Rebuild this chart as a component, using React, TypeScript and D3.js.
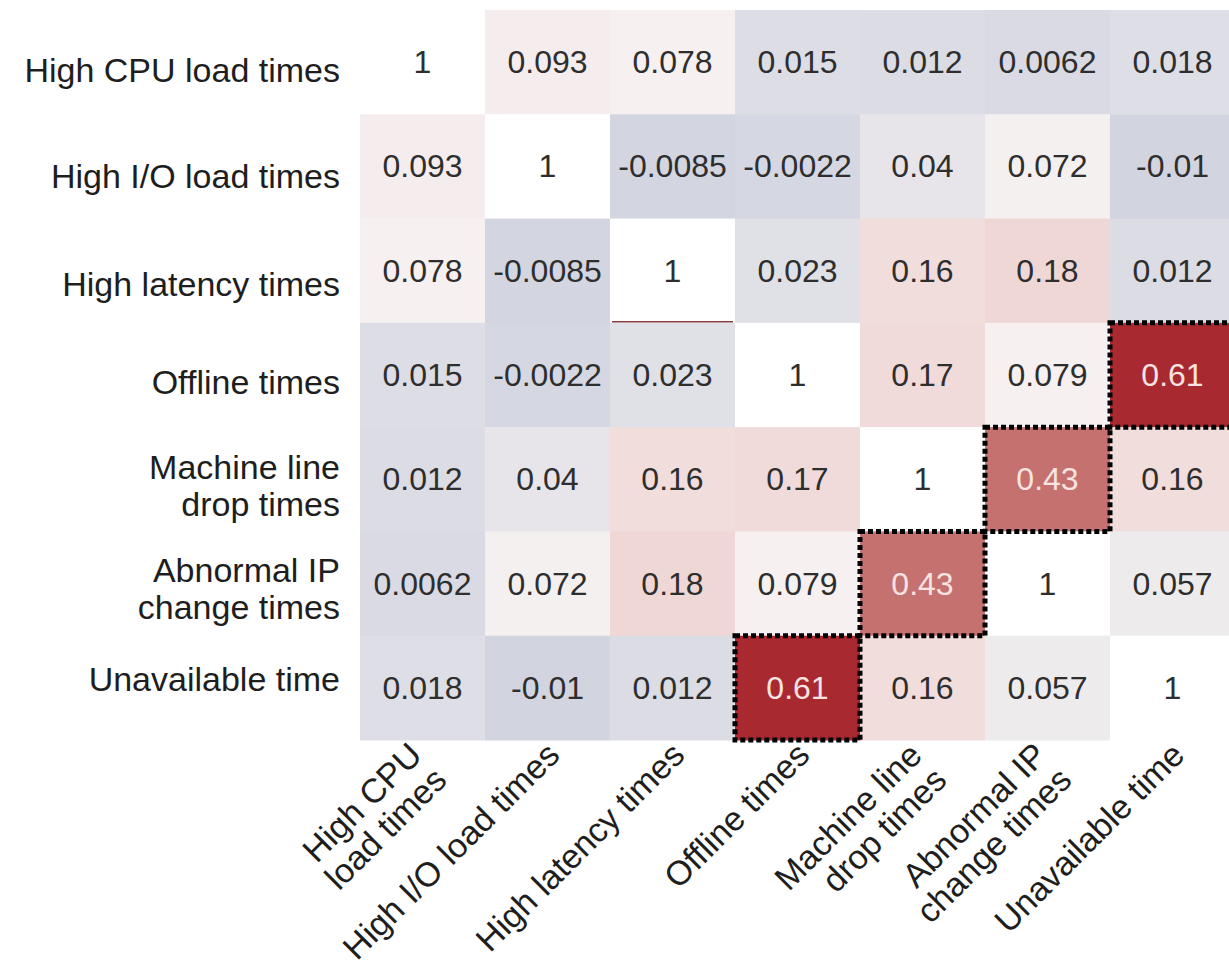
import React, { useEffect, useRef } from "react";
import * as d3 from "d3";

const variables: string[][] = [
  ["High CPU load times"],
  ["High I/O load times"],
  ["High latency times"],
  ["Offline times"],
  ["Machine line", "drop times"],
  ["Abnormal IP", "change times"],
  ["Unavailable time"],
];

const xTickLines: string[][] = [
  ["High CPU", "load times"],
  ["High I/O load times"],
  ["High latency times"],
  ["Offline times"],
  ["Machine line", "drop times"],
  ["Abnormal IP", "change times"],
  ["Unavailable time"],
];

const rowCPU = [1, 0.093, 0.078, 0.015, 0.012, 0.0062, 0.018];
const rowIO = [0.093, 1, -0.0085, -0.0022, 0.04, 0.072, -0.01];
const rowLatency = [0.078, -0.0085, 1, 0.023, 0.16, 0.18, 0.012];
const rowOffline = [0.015, -0.0022, 0.023, 1, 0.17, 0.079, 0.61];
const rowDrop = [0.012, 0.04, 0.16, 0.17, 1, 0.43, 0.16];
const rowIP = [0.0062, 0.072, 0.18, 0.079, 0.43, 1, 0.057];
const rowUnavail = [0.018, -0.01, 0.012, 0.61, 0.16, 0.057, 1];
const matrix = [rowCPU, rowIO, rowLatency, rowOffline, rowDrop, rowIP, rowUnavail];

const highlightedPairs: [number, number][] = [
  [3, 6],
  [6, 3],
  [4, 5],
  [5, 4],
];

const colorStops = [-0.01, 0.075, 0.17, 0.43, 0.61];
const colorRange = ["#d2d5e0", "#f6f1f1", "#f0dbda", "#c47170", "#a8292f"];

// small vertical nudges of the row labels, as seen in the reference
const rowLabelNudge = [8, 10, 13, 7, 6, 5, -9];

const W = 1229;
const H = 973;
const FONT = "'Liberation Sans', Arial, Helvetica, sans-serif";

export default function App() {
  const ref = useRef<SVGSVGElement | null>(null);

  useEffect(() => {
    const svg = d3.select(ref.current);
    svg.selectAll("*").remove();

    const n = variables.length;
    const idx = d3.range(n).map(String);
    const x = d3.scaleBand<string>().domain(idx).range([360, 1235]);
    const y = d3.scaleBand<string>().domain(idx).range([10, 740]);
    const color = d3
      .scaleLinear<string>()
      .domain(colorStops)
      .range(colorRange)
      .interpolate(d3.interpolateLab)
      .clamp(true);

    const loc = d3.formatLocale({
      decimal: ".",
      thousands: ",",
      grouping: [3],
      currency: ["", ""],
      minus: "-",
    });
    const fmt = loc.format(".2~g");

    const cells: { r: number; c: number; v: number }[] = [];
    matrix.forEach((row, r) => row.forEach((v, c) => cells.push({ r, c, v })));

    const isHi = (r: number, c: number) =>
      highlightedPairs.some(([a, b]) => a === r && b === c);

    const g = svg.append("g");
    g.selectAll("rect.cell")
      .data(cells)
      .join("rect")
      .attr("class", "cell")
      .attr("x", (d) => x(String(d.c))!)
      .attr("y", (d) => y(String(d.r))!)
      .attr("width", x.bandwidth() + 0.5)
      .attr("height", y.bandwidth() + 0.5)
      .attr("fill", (d) => (d.r === d.c ? "#ffffff" : color(d.v)));

    // small artifact line under the High latency diagonal cell
    g.append("line")
      .attr("x1", x("2")! + 2)
      .attr("x2", x("2")! + x.bandwidth() - 2)
      .attr("y1", y("2")! + y.bandwidth() - 1)
      .attr("y2", y("2")! + y.bandwidth() - 1)
      .attr("stroke", "#8a3a3a")
      .attr("stroke-width", 1.5);

    g.selectAll("text.val")
      .data(cells)
      .join("text")
      .attr("class", "val")
      .attr("x", (d) => x(String(d.c))! + x.bandwidth() / 2)
      .attr("y", (d) => y(String(d.r))! + y.bandwidth() / 2)
      .attr("text-anchor", "middle")
      .attr("dominant-baseline", "central")
      .attr("font-family", FONT)
      .attr("font-size", 32)
      .attr("fill", (d) => (isHi(d.r, d.c) ? "#f7e3e1" : "#2e2e2e"))
      .text((d) => fmt(d.v));

    // dotted highlight borders
    g.selectAll("rect.hi")
      .data(highlightedPairs)
      .join("rect")
      .attr("class", "hi")
      .attr("x", (d) => x(String(d[1]))!)
      .attr("y", (d) => y(String(d[0]))!)
      .attr("width", x.bandwidth())
      .attr("height", y.bandwidth())
      .attr("fill", "none")
      .attr("stroke", "#000")
      .attr("stroke-width", 5)
      .attr("stroke-dasharray", "5 3");

    // row labels
    const rowLh = 37;
    variables.forEach((lines, r) => {
      const cy = y(String(r))! + y.bandwidth() / 2 + rowLabelNudge[r];
      const t = svg
        .append("text")
        .attr("font-family", FONT)
        .attr("font-size", 34)
        .attr("fill", "#1e1e1e")
        .attr("text-anchor", "end");
      lines.forEach((ln, i) => {
        t.append("tspan")
          .attr("x", 340)
          .attr("y", cy + (i - (lines.length - 1) / 2) * rowLh)
          .attr("dominant-baseline", "central")
          .text(ln);
      });
    });

    // column labels rotated
    const colLh = 35;
    xTickLines.forEach((lines, c) => {
      const cx = x(String(c))! + x.bandwidth() / 2;
      const k = lines.length - 1;
      const ax = cx + 14 + k * 12;
      const ay = 757 + k * 25;
      const t = svg
        .append("text")
        .attr("font-family", FONT)
        .attr("font-size", 34)
        .attr("fill", "#1e1e1e")
        .attr("text-anchor", "end")
        .attr("transform", `translate(${ax},${ay}) rotate(-45)`);
      lines.forEach((ln, i) => {
        t.append("tspan")
          .attr("x", 0)
          .attr("y", (i - k) * colLh)
          .text(ln);
      });
    });
  }, []);

  return (
    <svg
      ref={ref}
      width={W}
      height={H}
      style={{ position: "absolute", left: 0, top: 0, background: "#fff" }}
    />
  );
}
